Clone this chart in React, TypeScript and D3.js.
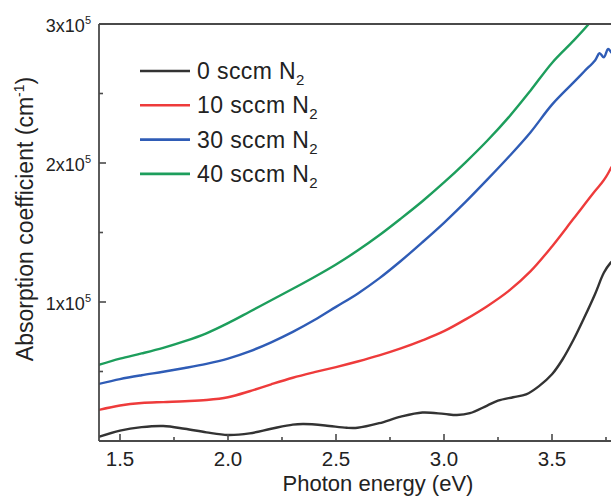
import React from "react";
import * as d3 from "d3";

const energy0 = [1.4, 1.5, 1.6, 1.7, 1.8, 1.9, 2.0, 2.1, 2.2, 2.3, 2.35, 2.45, 2.55, 2.6, 2.7, 2.8, 2.9, 3.0, 3.06, 3.12, 3.2, 3.25, 3.32, 3.38, 3.44, 3.5, 3.55, 3.6, 3.65, 3.7, 3.74, 3.77, 3.8];
const alpha0 = [2900, 7500, 10000, 10800, 8800, 6200, 4300, 5500, 8800, 11800, 12200, 11200, 9500, 9500, 12800, 17500, 20500, 19500, 18700, 20000, 25500, 29000, 31500, 33500, 39500, 48000, 59000, 73000, 89000, 106000, 121000, 128000, 132000];

const energy10 = [1.4, 1.5, 1.6, 1.7, 1.8, 1.9, 2.0, 2.1, 2.2, 2.3, 2.4, 2.5, 2.6, 2.7, 2.8, 2.9, 3.0, 3.1, 3.2, 3.3, 3.4, 3.5, 3.6, 3.7, 3.73, 3.75, 3.78, 3.8];
const alpha10 = [22300, 25500, 27300, 28000, 28600, 29500, 31500, 35800, 40800, 45500, 49500, 53200, 57200, 61600, 66600, 72400, 79000, 87500, 97000, 108000, 122000, 140000, 160000, 180000, 185600, 190000, 198000, 202000];

const energy30 = [1.4, 1.5, 1.6, 1.7, 1.8, 1.9, 2.0, 2.1, 2.2, 2.3, 2.4, 2.5, 2.6, 2.7, 2.8, 2.9, 3.0, 3.1, 3.2, 3.3, 3.4, 3.5, 3.6, 3.65, 3.7, 3.72, 3.74, 3.76, 3.78, 3.8];
const alpha30 = [41000, 44500, 47300, 49800, 52500, 55500, 59300, 64500, 71000, 78500, 87000, 96500, 106000, 117000, 129500, 143000, 157000, 172000, 188000, 204500, 222000, 242000, 258000, 266000, 274000, 279000, 276000, 282000, 279000, 280000];

const energy40 = [1.4, 1.5, 1.6, 1.7, 1.8, 1.9, 2.0, 2.1, 2.2, 2.3, 2.4, 2.5, 2.6, 2.7, 2.8, 2.9, 3.0, 3.1, 3.2, 3.3, 3.4, 3.5, 3.6, 3.67, 3.7];
const alpha40 = [54700, 59300, 63000, 67000, 71800, 77500, 84800, 93000, 101300, 109500, 118000, 127000, 137000, 148000, 160000, 172500, 186000, 200500, 216000, 233000, 252000, 272000, 288000, 300000, 306000];

const seriesNames = ["0", "10", "30", "40"];
const seriesColors = ["#333333", "#ee3b3b", "#2f5cb6", "#1d9e5c"];

const xMajorTicks = [1.5, 2.0, 2.5, 3.0, 3.5];
const xMinorTicks = [1.75, 2.25, 2.75, 3.25, 3.75];
const xTickLabels = ["1.5", "2.0", "2.5", "3.0", "3.5"];
const yMajorTicks = [100000, 200000, 300000];
const yMinorTicks = [50000, 150000, 250000];
const yTickMantissa = ["1", "2", "3"];

export default function App() {
  const W = 611, H = 496;
  const x = d3.scaleLinear().domain([1.4, 3.8]).range([98.4, 616.8]);
  const y = d3.scaleLinear().domain([0, 300000]).range([441, 24]);
  const left = 99, top = 24, bottom = 441;
  const font = "Liberation Sans, Arial, sans-serif";
  const axisColor = "#4a4a4a";

  const seriesData = [
    energy0.map((e, i) => [e, alpha0[i]]),
    energy10.map((e, i) => [e, alpha10[i]]),
    energy30.map((e, i) => [e, alpha30[i]]),
    energy40.map((e, i) => [e, alpha40[i]]),
  ] as [number, number][][];

  const line = d3
    .line<[number, number]>()
    .x((d) => x(d[0]))
    .y((d) => y(d[1]))
    .curve(d3.curveCatmullRom.alpha(0.5));

  return (
    <svg
      width={W}
      height={H}
      style={{ position: "absolute", left: 0, top: 0, background: "#fff" }}
      fontFamily={font}
    >
      <defs>
        <clipPath id="plotclip">
          <rect x={left} y={top} width={W - left} height={bottom - top} />
        </clipPath>
      </defs>

      <g clipPath="url(#plotclip)">
        {seriesData.map((d, i) => (
          <path
            key={i}
            d={line(d) || ""}
            fill="none"
            stroke={seriesColors[i]}
            strokeWidth={2.4}
            strokeLinejoin="round"
          />
        ))}
      </g>

      {/* axes frame */}
      <line x1={left} x2={left} y1={top} y2={bottom} stroke={axisColor} strokeWidth={1.8} />
      <line x1={left} x2={W} y1={bottom} y2={bottom} stroke={axisColor} strokeWidth={1.8} />
      <line x1={left} x2={W} y1={top} y2={top} stroke={axisColor} strokeWidth={1.8} />

      {/* x ticks */}
      {xMajorTicks.map((t, i) => (
        <g key={"xm" + i}>
          <line x1={x(t)} x2={x(t)} y1={bottom} y2={bottom - 7} stroke={axisColor} strokeWidth={1.6} />
          <text x={x(t)} y={466} textAnchor="middle" fontSize={20.5} fill="#222">
            {xTickLabels[i]}
          </text>
        </g>
      ))}
      {xMinorTicks.map((t, i) => (
        <line key={"xn" + i} x1={x(t)} x2={x(t)} y1={bottom} y2={bottom - 4} stroke={axisColor} strokeWidth={1.6} />
      ))}

      {/* y ticks */}
      {yMajorTicks.map((t, i) => (
        <g key={"ym" + i}>
          <line x1={left} x2={left + 7} y1={y(t)} y2={y(t)} stroke={axisColor} strokeWidth={1.6} />
          <text x={91} y={y(t) + 8} textAnchor="end" fontSize={18} fill="#222">
            {yTickMantissa[i]}x10
            <tspan dy={-8} fontSize={11}>5</tspan>
          </text>
        </g>
      ))}
      {yMinorTicks.map((t, i) => (
        <line key={"yn" + i} x1={left} x2={left + 4} y1={y(t)} y2={y(t)} stroke={axisColor} strokeWidth={1.6} />
      ))}

      {/* axis titles */}
      <text x={378} y={491} textAnchor="middle" fontSize={22} fill="#222">
        Photon energy (eV)
      </text>
      <text
        transform={`translate(33, 219) rotate(-90)`}
        textAnchor="middle"
        fontSize={23}
        fill="#222"
      >
        Absorption coefficient (cm
        <tspan dy={-9} fontSize={14}>-1</tspan>
        <tspan dy={9}>)</tspan>
      </text>

      {/* legend */}
      {seriesNames.map((n, i) => {
        const ly = 71 + i * 34.3;
        return (
          <g key={"lg" + i}>
            <line x1={140} x2={190} y1={ly} y2={ly} stroke={seriesColors[i]} strokeWidth={2.6} />
            <text x={197} y={ly + 8} fontSize={23} letterSpacing={0.4} fill="#222">
              {n} sccm N
              <tspan dy={6} fontSize={15}>2</tspan>
            </text>
          </g>
        );
      })}
    </svg>
  );
}
